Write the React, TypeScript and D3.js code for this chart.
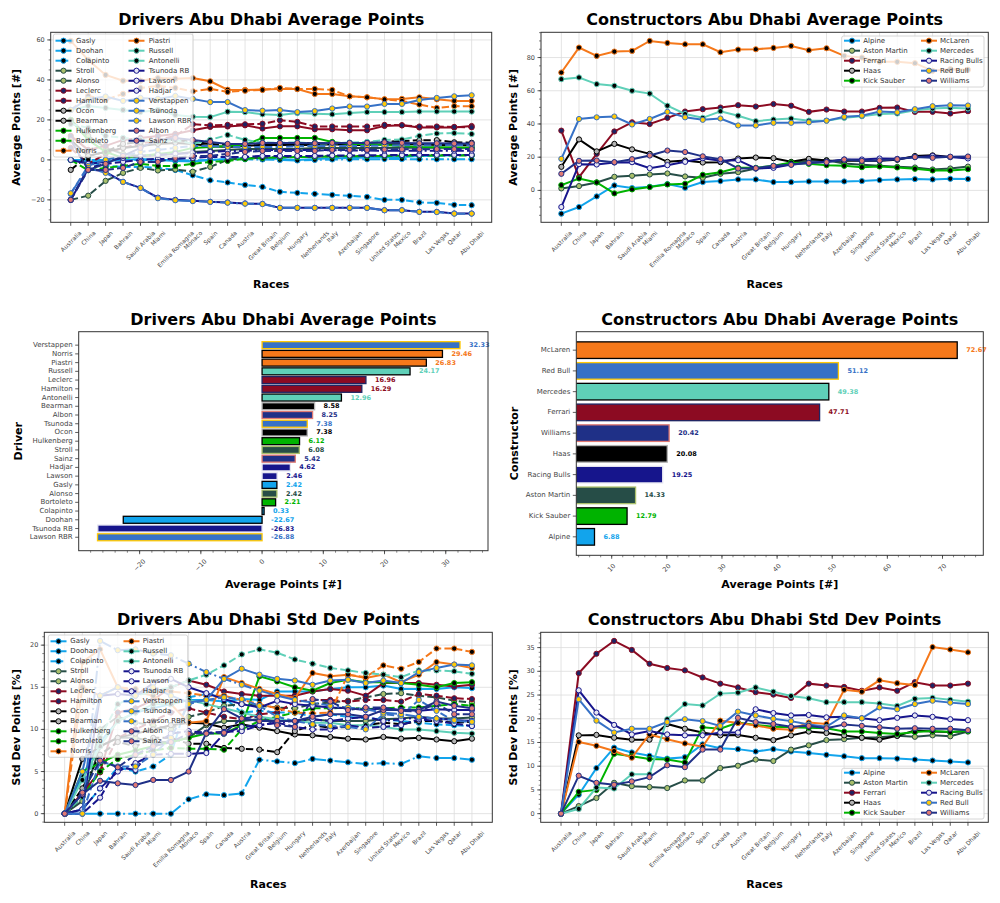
import React from 'react';
import * as d3 from 'd3';

// ---- categories ----
const races = ['Australia', 'China', 'Japan', 'Bahrain', 'Saudi Arabia', 'Miami', 'Emilia Romagna', 'Monaco', 'Spain', 'Canada', 'Austria', 'Great Britain', 'Belgium', 'Hungary', 'Netherlands', 'Italy', 'Azerbaijan', 'Singapore', 'United States', 'Mexico', 'Brazil', 'Las Vegas', 'Qatar', 'Abu Dhabi'];

const teams = ['Alpine', 'Aston Martin', 'Ferrari', 'Haas', 'Kick Sauber', 'McLaren', 'Mercedes', 'Racing Bulls', 'Red Bull', 'Williams'];
const teamLine = ['#12a4ec', '#264d47', '#8c0b22', '#000000', '#00b300', '#f5781a', '#5fd0b8', '#16158c', '#3671c6', '#1f3087'];
const teamFace = ['#000000', '#a9bf6b', '#1d2563', '#b3b3b3', '#000000', '#000000', '#000000', '#e6e6f2', '#ffc906', '#e07a73'];

const drivers = ['Gasly', 'Doohan', 'Colapinto', 'Stroll', 'Alonso', 'Leclerc', 'Hamilton', 'Ocon', 'Bearman', 'Hulkenberg', 'Bortoleto', 'Norris', 'Piastri', 'Russell', 'Antonelli', 'Tsunoda RB', 'Lawson', 'Hadjar', 'Verstappen', 'Tsunoda', 'Lawson RBR', 'Albon', 'Sainz'];
const driverTeam = ['Alpine', 'Alpine', 'Alpine', 'Aston Martin', 'Aston Martin', 'Ferrari', 'Ferrari', 'Haas', 'Haas', 'Kick Sauber', 'Kick Sauber', 'McLaren', 'McLaren', 'Mercedes', 'Mercedes', 'Racing Bulls', 'Racing Bulls', 'Racing Bulls', 'Red Bull', 'Red Bull', 'Red Bull', 'Williams', 'Williams'];
const driverDash = ['solid', 'dashed', 'dashdot', 'solid', 'dashed', 'solid', 'dashed', 'solid', 'dashed', 'solid', 'dashed', 'solid', 'dashed', 'solid', 'dashed', 'solid', 'dashed', 'dashdot', 'solid', 'dashed', 'dashdot', 'solid', 'dashed'];

// ---- drivers average points per race ----
const avgGasly = [0, -1, -0.5, 0, 0.5, 0, -0.5, -0.8, 0, 0.5, 1, 1, 0.5, 0, 0.5, 0.8, 1, 1.2, 1.3, 1.5, 2, 2.1, 2.3, 2.42];
const avgDoohan = [0, -1, -3, -3.5, -3.5, -4, -5, -7.7, -10.2, -11.3, -12.5, -13.5, -16, -16.5, -17, -17.5, -18, -18.5, -20, -20, -21.3, -21.5, -22.5, -22.67];
const avgColapinto = [0, 0, 0, 0, 0, 0, 0, -0.3, 0, 0.2, 0.3, 0.2, 0, -0.3, 0, 0.2, 0.3, 0.3, 0.4, 0.4, 0.3, 0.3, 0.3, 0.33];
const avgStroll = [20, 12, 6, 3, 2, 2.5, 3, 4, 4.5, 5, 5.5, 5.5, 5.5, 5.5, 6, 6, 6, 6, 6, 6.1, 6.1, 6.1, 6.1, 6.08];
const avgAlonso = [-20, -17.9, -10.5, -6.5, -4, -5.3, -4.8, -5.9, -3.5, 0, 1, 1, 1.5, 1.5, 1.5, 2, 2, 2, 2, 2.5, 2.5, 2.4, 2.4, 2.42];
const avgLeclerc = [12, 5, 7, 10, 11, 12, 13, 14.8, 16.5, 16.7, 17.3, 15.7, 16.8, 16.8, 15.3, 15.3, 14.8, 14.8, 17, 17.3, 16.2, 16.2, 16.2, 16.96];
const avgHamilton = [6, -2, 3, 6, 8, 10, 12, 17.8, 17.3, 17.5, 17.8, 18.1, 19.8, 19, 16.7, 16.7, 16.7, 16.7, 17.5, 17.3, 16.7, 16.7, 16.5, 16.29];
const avgOcon = [10, 2, 4, 6, 7, 8, 8.5, 8, 7, 6.5, 7, 7.5, 7.5, 7.5, 7.5, 7.8, 7.5, 7.5, 7.8, 7.8, 7.8, 7.5, 7.4, 7.38];
const avgBearman = [-5, 2, 4, 8, 9, 10, 10, 9, 8, 7.5, 7, 7.5, 8, 8, 8.5, 8.5, 8.5, 8.5, 9, 9.5, 9.8, 9.9, 8.8, 8.58];
const avgHulkenberg = [20, 10, 4, 1, 2, 3, 4, 6, 6.5, 7, 7.5, 11, 11, 11, 11, 9, 8, 8, 7.5, 7, 6.5, 6.3, 6.2, 6.12];
const avgBortoleto = [0, -5.2, -4, -3, -2, -3, -3, -2, -1, -0.5, 0.5, 1, 1.2, 1.4, 1.5, 1.7, 1.8, 1.9, 2, 2.1, 2.2, 2.2, 2.2, 2.21];
const avgNorris = [59.5, 50, 42.5, 39.6, 39.6, 40.9, 40.6, 40.9, 39.3, 35.1, 35, 35.2, 35.4, 35.4, 33, 33, 31.8, 31.3, 30.3, 30.5, 31.3, 30.3, 29.5, 29.46];
const avgPiastri = [25, 32, 30, 33, 36, 37, 36, 34.3, 35.5, 34, 34.6, 35, 36, 35.5, 35.5, 35, 31.8, 31.3, 30.3, 29.5, 27.7, 26, 26.9, 26.83];
const avgRussell = [25, 27, 26, 25, 24, 25, 22.5, 21.6, 21.4, 24.1, 23.9, 22.8, 22.4, 23.4, 23.1, 22.8, 23.4, 23.9, 23.9, 23.9, 24.2, 24.2, 24.2, 24.17];
const avgAntonelli = [18, 16, 12, 11, 10, 9, 10, 8, 10, 12.5, 10, 8.7, 8.6, 8.7, 8.2, 8.2, 8.7, 9, 10, 10.2, 12, 13.2, 13.4, 12.96];
const avgTsunodaRB = [-20, -4.4, -6, -11, -14, -18.9, -20, -20.5, -21, -21.3, -21.8, -22, -24, -24, -24, -24, -24, -24, -25.2, -25.2, -26, -26, -26.8, -26.83];
const avgLawson = [-20, -4, -2, -1, 0, 0.5, 0.5, 1, 1.5, 1.5, 1.5, 2, 2, 2, 2, 2.2, 2.2, 2.3, 2.4, 2.4, 2.5, 2.5, 2.5, 2.46];
const avgHadjar = [0, -2, -1, 1, 2, 2.5, 3, 3.5, 4, 4.5, 4.5, 5, 5, 5, 5, 4.8, 4.7, 4.7, 4.6, 4.6, 4.6, 4.6, 4.6, 4.62];
const avgVerstappen = [25, 30.5, 31.7, 29.5, 31, 30.5, 32, 30.5, 28.9, 28.9, 24.9, 24.6, 24.9, 23.9, 24.4, 25.7, 26.7, 26.7, 28, 28, 29.9, 31, 31.8, 32.33];
const avgTsunoda = [-17, -3, 0, 2, 4, 5, 6, 7, 7, 6.5, 6.5, 6.5, 6.5, 6.8, 7, 7, 7, 7, 7.2, 7.3, 7.3, 7.4, 7.4, 7.38];
const avgLawsonRBR = [-16.7, -4, -6.5, -11, -14, -19.2, -20.2, -20.6, -21, -21.4, -21.9, -22.1, -24, -24, -24, -24, -24, -24, -25.2, -25.2, -26, -26.1, -26.9, -26.88];
const avgAlbon = [10, -5, -2, 2, 6, 10, 11, 10, 9, 8, 8, 8.5, 8.5, 8.5, 8.3, 8.5, 8.5, 8.5, 8.8, 8.5, 8.3, 8.3, 8.2, 8.25];
const avgSainz = [-20, -5, -5, -4, -1, -1, 1, 2, 2, 3, 4, 4.5, 4.5, 4.5, 4.5, 5, 5, 5, 5.2, 5.3, 5.3, 5.4, 5.4, 5.42];

// ---- drivers std dev per race ----
const stdGasly = [0, 4.5, 8.5, 11, 12, 12.5, 13, 13.5, 13.5, 13.3, 13.6, 13.5, 14.5, 14.5, 14.5, 14.8, 15, 15, 15.2, 14.8, 14.8, 14.8, 15, 14.9];
const stdDoohan = [0, 0.5, 3, 5.5, 5, 5.6, 7, 13.8, 14.2, 13.8, 12, 12.2, 12, 12, 11.5, 11.8, 11.5, 11.3, 11.2, 11, 10.8, 10.6, 10.5, 10.4];
const stdColapinto = [0, 0, 0, 0, 0, 0, 0, 1.7, 2.3, 2.2, 2.4, 6.4, 6.2, 6.0, 6.5, 6.3, 6.1, 5.9, 6.0, 5.9, 6.8, 6.6, 6.6, 6.4];
const stdStroll = [0, 1.5, 8, 9, 9, 8.5, 8.5, 9, 10.5, 11, 11, 11.2, 11, 11, 11.2, 11, 11, 11, 11.2, 11.3, 11.5, 11.3, 11.3, 11.4];
const stdAlonso = [0, 2, 10, 11.5, 10.8, 10.5, 10, 11.5, 12, 12.8, 13, 12.8, 12.6, 12.5, 13, 13.2, 13.4, 13.8, 14.2, 14.3, 14, 13.8, 13.4, 13.2];
const stdLeclerc = [0, 2.5, 5, 12, 12.5, 13.5, 15, 15.8, 15.3, 14.5, 14.2, 14, 14, 14, 14.5, 14.8, 14.6, 14, 15.5, 15.5, 15.5, 15.3, 15.1, 15.3];
const stdHamilton = [0, 2.5, 4.9, 9, 10, 11, 12, 12.5, 12, 11.5, 11.2, 11.8, 12, 13.3, 13.5, 13.5, 13.3, 13.5, 13.5, 13.3, 14.2, 14, 13.7, 13.6];
const stdOcon = [0, 6.5, 8, 9, 9.5, 10, 10.5, 10.8, 10.7, 10.2, 10.6, 10.2, 9.8, 9.4, 9.3, 9.1, 8.9, 8.8, 9.1, 8.9, 9.0, 8.8, 8.6, 8.9];
const stdBearman = [0, 3, 7, 8.5, 8, 9, 9, 8.3, 8.3, 7.8, 7.7, 7.6, 7.3, 9.8, 10.5, 10.2, 10.3, 10.5, 10.8, 10.6, 11, 11, 10.8, 10.9];
const stdHulkenberg = [0, 5, 6, 7, 7.5, 8, 8.5, 9, 9.5, 9.5, 10.5, 16.3, 15.7, 15, 14.6, 15.5, 15.9, 15.6, 15.6, 15.5, 15.3, 15, 15.5, 15.6];
const stdBortoleto = [0, 2, 5, 6.5, 7, 7.5, 7.8, 7.7, 7.7, 7.6, 10, 11, 11.5, 12, 12.5, 12.5, 12.6, 12.4, 12.5, 12.6, 12.6, 12.8, 13, 12.8];
const stdNorris = [0, 18, 19.5, 15, 14.5, 14, 13, 10.8, 11, 16.2, 15.5, 14.8, 14.2, 13.7, 16.7, 16.3, 16.5, 16.1, 16.5, 15.6, 16.5, 18, 17.7, 17.3];
const stdPiastri = [0, 15, 14, 15, 14.8, 14.5, 14.5, 14.3, 14, 14, 13.5, 13, 12.5, 12, 11.9, 12, 16.5, 16.2, 17.6, 17.2, 18, 19.6, 19.6, 19.2];
const stdRussell = [0, 4, 8, 11, 12, 13, 13, 13.5, 13, 12.5, 12, 11.5, 11.2, 11, 10.8, 10.8, 10.5, 10.5, 10.3, 10, 10, 9.8, 9.6, 9.5];
const stdAntonelli = [0, 2, 9, 13, 14, 14.5, 15, 15.8, 16.5, 17.6, 18.9, 19.5, 19.1, 18.3, 17.8, 17.3, 17, 16.7, 16.5, 16.2, 17, 17, 16.9, 16.6];
const stdTsunodaRB = [0, 0.5, 14, 14.2, 14, 15.5, 16, 15, 14.3, 13.6, 13, 12.6, 13.4, 13, 12.8, 12.6, 12.5, 12.3, 12.5, 12.3, 12.2, 12.4, 12.3, 12.3];
const stdLawson = [0, 0, 1.9, 5.5, 5.2, 8, 9.5, 9.8, 9.6, 9.7, 9.8, 10.5, 10.8, 10.3, 10, 10, 10.5, 10.2, 10.3, 10.5, 11.2, 11, 10.7, 10.4];
const stdHadjar = [0, 0.5, 3, 5, 6, 7, 7.1, 7.1, 7.2, 9.5, 10.3, 10.5, 10.8, 11, 11.2, 11, 11.3, 11.5, 11, 11.2, 11.4, 11.3, 11.1, 11];
const stdVerstappen = [0, 5, 14, 15, 14, 15, 14, 13.2, 13.5, 16, 17.2, 16.5, 16, 15.8, 15.3, 15.8, 15.9, 15.5, 15.8, 15.5, 16.8, 17.3, 17.7, 17.6];
const stdTsunoda = [0, 0, 6.2, 5.6, 5.6, 7, 9, 13, 13.5, 13.8, 13.6, 12.8, 11.5, 11, 10.6, 10.4, 10.3, 10, 11.8, 11.6, 13.5, 12.2, 11, 10.9];
const stdLawsonRBR = [0, 0, 20.5, 19.4, 19.5, 19, 18.8, 17.8, 16.8, 16, 15.3, 14.6, 14, 13.5, 13.2, 12.8, 12.6, 12.4, 12, 11.8, 11.5, 11.3, 11.1, 10.9];
const stdAlbon = [0, 2.3, 3.9, 3.6, 3.4, 4, 4, 5, 9.6, 12.4, 11.3, 11, 11, 11, 11.5, 11.8, 11.8, 11.5, 12.3, 12.3, 12.3, 13.3, 12.8, 12.5];
const stdSainz = [0, 2.5, 6.3, 5.5, 7, 8, 8.5, 9.5, 9.5, 9.6, 11.3, 11.5, 10.5, 10.3, 13.6, 13.3, 12.3, 12.6, 12.6, 12.2, 12.1, 13.1, 11.8, 11.8];

// ---- constructors average points per race ----
const cAvgAlpine = [-14, -10, -3.6, 3, 1.4, 2.2, 3.8, 1.6, 5, 5.6, 6.6, 6.6, 5, 5, 5.4, 5.4, 5.4, 5.6, 6.2, 6.6, 6.8, 6.6, 7, 6.88];
const cAvgAston = [1.2, 2.6, 4.8, 8.2, 8.8, 9.6, 10.2, 8.4, 7.6, 10, 11, 13.2, 14.2, 16.6, 17.8, 18.2, 16.2, 15.4, 14.8, 14.2, 13.8, 12.6, 13.2, 14.33];
const cAvgFerrari = [36, 8, 22, 35.5, 41, 40, 43.7, 47.5, 48.9, 49.9, 51.3, 50.5, 52, 51, 47.3, 48.7, 47.5, 47.5, 49.7, 49.9, 47.3, 47.3, 46.3, 47.71];
const cAvgHaas = [14.2, 30.7, 23.5, 28, 24.7, 22, 17.2, 18, 16.8, 17, 19.2, 19.8, 19.4, 17.2, 19, 18, 17.8, 17.8, 17.8, 18.4, 20.7, 21.1, 20.1, 20.08];
const cAvgSauber = [3.2, 7.2, 4.8, -1.8, 0.6, 2, 3.6, 4, 9.4, 11, 13.6, 13.6, 14.8, 16.8, 16, 15.2, 14.8, 14, 14.4, 13.8, 13, 12, 12, 12.79];
const cAvgMcLaren = [71, 86, 81, 83.6, 84, 90, 88.8, 88, 88, 83.2, 84.8, 85, 85.8, 87, 84.4, 85.6, 81, 80, 77.4, 77.4, 76.6, 72, 73, 72.67];
const cAvgMercedes = [67, 68, 64, 63, 60, 58.3, 51, 46, 43.7, 47.7, 45, 41.7, 42.7, 43.3, 42, 42, 43.7, 44.7, 46, 46.3, 48.3, 49.3, 49.7, 49.38];
const cAvgRB = [-10, 15.8, 15.6, 16.8, 17, 13.4, 15.2, 17.2, 19.4, 17.8, 18.2, 13.2, 13.6, 15.6, 16.6, 17.2, 18.6, 18.6, 19.2, 19, 20, 20.7, 20.1, 19.25];
const cAvgRedBull = [19, 43, 44, 44.5, 39.7, 43, 47.3, 44, 42.5, 43.3, 39.1, 39.1, 40.7, 40.7, 41, 42, 44.3, 45, 47.5, 47, 48.9, 50.7, 51.3, 51.12];
const cAvgWilliams = [10, 17.8, 18, 17, 18.8, 21, 24, 23.1, 20.5, 18.8, 13.2, 13.4, 14.8, 15.4, 16.6, 17, 18.6, 17.8, 18, 18.8, 20.1, 19.6, 20.3, 20.42];

// ---- constructors std dev per race ----
const cStdAlpine = [0, 4, 9.6, 13.9, 12.9, 12.2, 11.6, 11.9, 14.6, 13.8, 13.6, 13.1, 13.6, 13.1, 12.8, 12.4, 12.1, 11.7, 11.7, 11.6, 11.4, 11.2, 11, 10.8];
const cStdAston = [0, 1.6, 3.3, 6.5, 5.8, 5.6, 5.4, 7, 7, 9.6, 10.1, 11.4, 11.1, 13.5, 14.4, 15.5, 15.7, 16, 16.1, 16.4, 16.2, 16.5, 16.3, 17.3];
const cStdFerrari = [0, 29.6, 33.7, 36.4, 34.5, 31.6, 30.7, 30.2, 28.7, 27.4, 26.6, 25.6, 25.1, 24.4, 27.4, 27, 26.7, 25.9, 26.6, 25.9, 27.7, 27, 27, 27.4];
const cStdHaas = [0, 16.5, 16.6, 16, 15.6, 15.6, 18.9, 17.9, 17.1, 16.5, 16.6, 16, 15.5, 16.5, 17.3, 17, 16.5, 16, 15.6, 16.4, 17.5, 17.3, 17.2, 17.4];
const cStdSauber = [0, 4.6, 5, 12.6, 12.1, 11.5, 11.4, 10.8, 18.2, 17.9, 19.2, 18.7, 18.3, 18.2, 18.1, 18, 17.3, 17.3, 17, 16.8, 17.2, 17.4, 17.2, 17.4];
const cStdMcLaren = [0, 15.1, 14.3, 13.2, 11.8, 16.7, 15.7, 14.8, 14.1, 19.6, 19.1, 18.6, 17.9, 17.7, 19.2, 18.9, 26.1, 25.7, 28.1, 27.5, 27.1, 35.1, 34.6, 34];
const cStdMercedes = [0, 1, 5.5, 5.3, 8.3, 8.3, 19.9, 23.1, 22.8, 25.3, 25.5, 26.6, 25.7, 24.8, 24.3, 23.5, 23.5, 23.5, 23.2, 22.7, 24.2, 24.4, 24, 23.6];
const cStdRB = [0, 26, 21.3, 18.7, 16.7, 17.4, 16.7, 16.5, 16.5, 17.1, 17.1, 22, 21.2, 20.7, 20.8, 20.3, 20.4, 20.1, 19.7, 20.2, 20.7, 20.4, 19.9, 19.7];
const cStdRedBull = [0, 24.1, 19.6, 17.1, 17.9, 17.9, 19.3, 19.9, 19.5, 18.5, 21.5, 20.7, 20, 19.5, 18.8, 18.3, 20.7, 20.1, 22.4, 22, 23.1, 23.8, 23.4, 23.1];
const cStdWilliams = [0, 8, 6.5, 6.1, 6.8, 7.7, 10.2, 9.8, 13.5, 13.5, 20.2, 19.3, 18.9, 18.3, 18.5, 18, 18.8, 18.5, 18.2, 17.9, 18, 17.9, 17.9, 17.6];

// ---- final averages (bar charts) ----
const barDrivers = ['Verstappen', 'Norris', 'Piastri', 'Russell', 'Leclerc', 'Hamilton', 'Antonelli', 'Bearman', 'Albon', 'Tsunoda', 'Ocon', 'Hulkenberg', 'Stroll', 'Sainz', 'Hadjar', 'Lawson', 'Gasly', 'Alonso', 'Bortoleto', 'Colapinto', 'Doohan', 'Tsunoda RB', 'Lawson RBR'];
const barDriverValues = [32.33, 29.46, 26.83, 24.17, 16.96, 16.29, 12.96, 8.58, 8.25, 7.38, 7.38, 6.12, 6.08, 5.42, 4.62, 2.46, 2.42, 2.42, 2.21, 0.33, -22.67, -26.83, -26.88];
const barTeams = ['McLaren', 'Red Bull', 'Mercedes', 'Ferrari', 'Williams', 'Haas', 'Racing Bulls', 'Aston Martin', 'Kick Sauber', 'Alpine'];
const barTeamValues = [72.67, 51.12, 49.38, 47.71, 20.42, 20.08, 19.25, 14.33, 12.79, 6.88];

const driverAvg = [avgGasly, avgDoohan, avgColapinto, avgStroll, avgAlonso, avgLeclerc, avgHamilton, avgOcon, avgBearman, avgHulkenberg, avgBortoleto, avgNorris, avgPiastri, avgRussell, avgAntonelli, avgTsunodaRB, avgLawson, avgHadjar, avgVerstappen, avgTsunoda, avgLawsonRBR, avgAlbon, avgSainz];
const driverStd = [stdGasly, stdDoohan, stdColapinto, stdStroll, stdAlonso, stdLeclerc, stdHamilton, stdOcon, stdBearman, stdHulkenberg, stdBortoleto, stdNorris, stdPiastri, stdRussell, stdAntonelli, stdTsunodaRB, stdLawson, stdHadjar, stdVerstappen, stdTsunoda, stdLawsonRBR, stdAlbon, stdSainz];
const teamAvg = [cAvgAlpine, cAvgAston, cAvgFerrari, cAvgHaas, cAvgSauber, cAvgMcLaren, cAvgMercedes, cAvgRB, cAvgRedBull, cAvgWilliams];
const teamStd = [cStdAlpine, cStdAston, cStdFerrari, cStdHaas, cStdSauber, cStdMcLaren, cStdMercedes, cStdRB, cStdRedBull, cStdWilliams];

const FONT = '"DejaVu Sans", sans-serif';
const DASH: Record<string, string | undefined> = { solid: undefined, dashed: '7.4,3.2', dashdot: '12.8,3.2,2,3.2' };
const TICK = '#444';

const lineOf = (t: string) => teamLine[teams.indexOf(t)];
const faceOf = (t: string) => teamFace[teams.indexOf(t)];

let ctx: CanvasRenderingContext2D | null = null;
function textWidth(s: string, size: number) {
  if (!ctx && typeof document !== 'undefined') ctx = document.createElement('canvas').getContext('2d');
  if (!ctx) return s.length * size * 0.55;
  ctx.font = `${size}px "DejaVu Sans"`;
  return ctx.measureText(s).width;
}

type Series = { name: string; values: number[]; color: string; face: string; dash: string };
type Box = { l: number; r: number; t: number; b: number };
type Leg = { x: number; y: number; w: number; h: number; hx: number[]; tx: number[]; row0: number };

// label rotated 45deg, bbox centred under its tick (matplotlib ha=center)
function RotLabel({ x, top, text, size }: { x: number; top: number; text: string; size: number }) {
  const L = textWidth(text, size);
  const cy = top + (L + size * 1.15) * 0.3536;
  return (
    <text x={x} y={cy} fontSize={size} fill={TICK} textAnchor="middle" dominantBaseline="central"
      transform={`rotate(-45 ${x} ${cy})`}>{text}</text>
  );
}

function Legend({ series, leg }: { series: Series[]; leg: Leg }) {
  const rows = Math.ceil(series.length / 2);
  return (
    <g>
      <rect x={leg.x} y={leg.y} width={leg.w} height={leg.h} rx={2} fill="#fff" fillOpacity={0.8} stroke="#cccccc" strokeWidth={0.8} />
      {series.map((s, i) => {
        const col = i < rows ? 0 : 1;
        const y = leg.row0 + (i % rows) * 10;
        const x0 = leg.hx[col];
        return (
          <g key={s.name}>
            <line x1={x0} x2={x0 + 16} y1={y} y2={y} stroke={s.color} strokeWidth={2} strokeDasharray={DASH[s.dash]} />
            <circle cx={x0 + 8} cy={y} r={2.6} fill={s.face} stroke={s.color} strokeWidth={1} />
            <text x={leg.tx[col]} y={y} fontSize={7} fill="#333" dominantBaseline="central">{s.name}</text>
          </g>
        );
      })}
    </g>
  );
}

function LineChart({ box, title, yLabel, yLabelX, xLabelY, series, yStep, yMinor, leg }: {
  box: Box; title: string; yLabel: string; yLabelX: number; xLabelY: number; series: Series[]; yStep: number; yMinor: number; leg: Leg;
}) {
  const x = d3.scaleLinear().domain([-1.15, races.length - 1 + 1.15]).range([box.l, box.r]);
  const all = series.flatMap(s => s.values);
  const [lo, hi] = d3.extent(all) as [number, number];
  const pad = (hi - lo) * 0.05;
  const y = d3.scaleLinear().domain([lo - pad, hi + pad]).range([box.b, box.t]);
  const major = d3.range(Math.ceil((lo - pad) / yStep) * yStep, hi + pad + 1e-9, yStep);
  const minor = d3.range(Math.ceil((lo - pad) / yMinor) * yMinor, hi + pad + 1e-9, yMinor);
  const line = d3.line<number>().x((_, i) => x(i)).y(v => y(v));
  const cx = (box.l + box.r) / 2;
  return (
    <g fontFamily={FONT}>
      {races.map((r, i) => <line key={r} x1={x(i)} x2={x(i)} y1={box.t} y2={box.b} stroke="#dcdcdc" strokeWidth={0.8} />)}
      {major.map(v => <line key={v} x1={box.l} x2={box.r} y1={y(v)} y2={y(v)} stroke="#dcdcdc" strokeWidth={0.8} />)}
      {series.map(s => (
        <g key={s.name}>
          <path d={line(s.values) || ''} fill="none" stroke={s.color} strokeWidth={2} strokeDasharray={DASH[s.dash]} />
          {s.values.map((v, i) => <circle key={i} cx={x(i)} cy={y(v)} r={2.6} fill={s.face} stroke={s.color} strokeWidth={1} />)}
        </g>
      ))}
      <rect x={box.l} y={box.t} width={box.r - box.l} height={box.b - box.t} fill="none" stroke="#333" strokeWidth={1} />
      {races.map((r, i) => (
        <g key={r}>
          <line x1={x(i)} x2={x(i)} y1={box.b} y2={box.b + 3.5} stroke="#333" strokeWidth={0.8} />
          <RotLabel x={x(i)} top={box.b + 7} text={r} size={6} />
        </g>
      ))}
      {minor.map(v => <line key={'m' + v} x1={box.l - 2} x2={box.l} y1={y(v)} y2={y(v)} stroke="#333" strokeWidth={0.6} />)}
      {major.map(v => (
        <g key={'t' + v}>
          <line x1={box.l - 3.5} x2={box.l} y1={y(v)} y2={y(v)} stroke="#333" strokeWidth={0.8} />
          <text x={box.l - 6} y={y(v)} fontSize={6.5} fill={TICK} textAnchor="end" dominantBaseline="central">{v < 0 ? '\u2212' + Math.abs(v) : v}</text>
        </g>
      ))}
      <Legend series={series} leg={leg} />
      <text x={cx} y={box.t - 7} fontSize={16} fontWeight="bold" textAnchor="middle">{title}</text>
      <text x={cx} y={xLabelY} fontSize={11} fontWeight="bold" textAnchor="middle" dominantBaseline="central">Races</text>
      <text x={yLabelX} y={(box.t + box.b) / 2} fontSize={11} fontWeight="bold" textAnchor="middle" dominantBaseline="central"
        transform={`rotate(-90 ${yLabelX} ${(box.t + box.b) / 2})`}>{yLabel}</text>
    </g>
  );
}

function BarChart({ box, title, yLabel, yLabelX, xLabelY, names, values, teamOf, xDomain, clipId }: {
  box: Box; title: string; yLabel: string; yLabelX: number; xLabelY: number; names: string[]; values: number[];
  teamOf: (n: string) => string; xDomain: [number, number]; clipId: string;
}) {
  const x = d3.scaleLinear().domain(xDomain).range([box.l, box.r]);
  const n = names.length;
  const m = (n - 1 + 0.8) * 0.05;
  const y = d3.scaleLinear().domain([-0.4 - m, n - 1 + 0.4 + m]).range([box.t, box.b]);
  const major = d3.range(Math.ceil(xDomain[0] / 10) * 10, xDomain[1], 10);
  const minor = d3.range(Math.ceil(xDomain[0] / 2) * 2, xDomain[1], 2);
  const cx = (box.l + box.r) / 2;
  const bh = y(0.4) - y(-0.4);
  return (
    <g fontFamily={FONT}>
      <clipPath id={clipId}><rect x={box.l} y={box.t} width={box.r - box.l} height={box.b - box.t} /></clipPath>
      <g clipPath={`url(#${clipId})`}>
        {names.map((nm, i) => {
          const v = values[i];
          const t = teamOf(nm);
          return (
            <rect key={nm} x={x(Math.min(0, v))} y={y(i) - bh / 2} width={Math.abs(x(v) - x(0))} height={bh}
              fill={lineOf(t)} stroke={faceOf(t)} strokeWidth={1.3} />
          );
        })}
      </g>
      {names.map((nm, i) => {
        const v = values[i];
        return (
          <text key={'v' + nm} x={x(Math.max(0, v)) + 9} y={y(i)} fontSize={6.5} fontWeight="bold" fill={lineOf(teamOf(nm))}
            dominantBaseline="central">{v.toFixed(2)}</text>
        );
      })}
      <rect x={box.l} y={box.t} width={box.r - box.l} height={box.b - box.t} fill="none" stroke="#333" strokeWidth={1} />
      {names.map((nm, i) => (
        <g key={'y' + nm}>
          <line x1={box.l - 3.5} x2={box.l} y1={y(i)} y2={y(i)} stroke="#333" strokeWidth={0.8} />
          <text x={box.l - 6} y={y(i)} fontSize={7} fill={TICK} textAnchor="end" dominantBaseline="central">{nm}</text>
        </g>
      ))}
      {minor.map(v => <line key={'m' + v} x1={x(v)} x2={x(v)} y1={box.b} y2={box.b + 2} stroke="#333" strokeWidth={0.6} />)}
      {major.map(v => (
        <g key={'t' + v}>
          <line x1={x(v)} x2={x(v)} y1={box.b} y2={box.b + 3.5} stroke="#333" strokeWidth={0.8} />
          <RotLabel x={x(v)} top={box.b + 7} text={v < 0 ? '\u2212' + Math.abs(v) : String(v)} size={6.5} />
        </g>
      ))}
      <text x={cx} y={box.t - 7} fontSize={16} fontWeight="bold" textAnchor="middle">{title}</text>
      <text x={cx} y={xLabelY} fontSize={11} fontWeight="bold" textAnchor="middle" dominantBaseline="central">Average Points [#]</text>
      <text x={yLabelX} y={(box.t + box.b) / 2} fontSize={11} fontWeight="bold" textAnchor="middle" dominantBaseline="central"
        transform={`rotate(-90 ${yLabelX} ${(box.t + box.b) / 2})`}>{yLabel}</text>
    </g>
  );
}

const driverSeries = (vals: number[][]): Series[] => drivers.map((d, i) => ({
  name: d, values: vals[i], color: lineOf(driverTeam[i]), face: faceOf(driverTeam[i]), dash: driverDash[i],
}));
const teamSeries = (vals: number[][]): Series[] => teams.map((t, i) => ({
  name: t, values: vals[i], color: teamLine[i], face: teamFace[i], dash: 'solid',
}));

export default function App() {
  const driverTeamOf = (n: string) => driverTeam[drivers.indexOf(n)];
  return (
    <svg width={1000} height={903} style={{ position: 'absolute', left: 0, top: 0, background: '#fff' }}>
      <LineChart box={{ l: 50.7, r: 491.7, t: 32.3, b: 222.3 }} title="Drivers Abu Dhabi Average Points" yLabel="Average Points [#]"
        yLabelX={17} xLabelY={284} series={driverSeries(driverAvg)} yStep={20} yMinor={5}
        leg={{ x: 53.3, y: 34, w: 139.7, h: 123, hx: [55.5, 128.5], tx: [76, 148.7], row0: 40.7 }} />
      <LineChart box={{ l: 541, r: 988.3, t: 32.3, b: 222.3 }} title="Constructors Abu Dhabi Average Points" yLabel="Average Points [#]"
        yLabelX={513.3} xLabelY={284} series={teamSeries(teamAvg)} yStep={20} yMinor={5}
        leg={{ x: 841.7, y: 36, w: 142.3, h: 51, hx: [844, 921], tx: [863.3, 940], row0: 40.7 }} />
      <BarChart box={{ l: 78.7, r: 488, t: 331.7, b: 550.7 }} title="Drivers Abu Dhabi Average Points" yLabel="Driver" yLabelX={18.7}
        xLabelY={584} names={barDrivers} values={barDriverValues} teamOf={driverTeamOf} xDomain={[-29.95, 36.9]} clipId="cl1" />
      <BarChart box={{ l: 576.3, r: 983.3, t: 331.7, b: 555.3 }} title="Constructors Abu Dhabi Average Points" yLabel="Constructor" yLabelX={514}
        xLabelY={584} names={barTeams} values={barTeamValues} teamOf={(n) => n} xDomain={[3.58, 77.4]} clipId="cl2" />
      <LineChart box={{ l: 44.3, r: 492.3, t: 632.3, b: 822.3 }} title="Drivers Abu Dhabi Std Dev Points" yLabel="Std Dev Points [%]"
        yLabelX={16.7} xLabelY={884} series={driverSeries(driverStd)} yStep={5} yMinor={1}
        leg={{ x: 48.3, y: 635, w: 139.4, h: 122.3, hx: [50.5, 123.5], tx: [70.3, 142.7], row0: 641.3 }} />
      <LineChart box={{ l: 540.7, r: 988.3, t: 632.3, b: 822.3 }} title="Constructors Abu Dhabi Std Dev Points" yLabel="Std Dev Points [%]"
        yLabelX={513.3} xLabelY={884} series={teamSeries(teamStd)} yStep={5} yMinor={1}
        leg={{ x: 841.7, y: 768.3, w: 142.3, h: 50.7, hx: [844, 921], tx: [863.3, 940], row0: 772.7 }} />
    </svg>
  );
}
